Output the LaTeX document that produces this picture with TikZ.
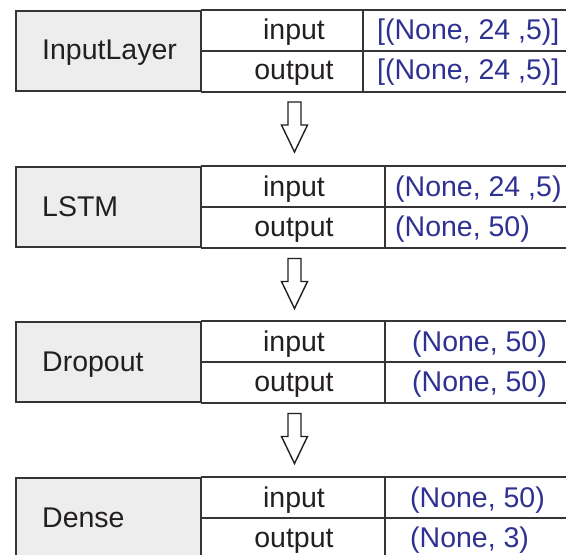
\documentclass[tikz,border=0pt]{standalone}
\usepackage{fontspec}
\setmainfont{Liberation Sans}
\usetikzlibrary{calc}
\definecolor{cellgray}{HTML}{EDEDED}
\definecolor{linegray}{HTML}{383334}
\definecolor{txtgray}{HTML}{231F20}
\definecolor{dimblue}{HTML}{2E3192}
\tikzset{
	gridline/.style={draw=linegray, line width=2pt, line cap=rect},
	namecell/.style={gridline, fill=cellgray, anchor=north west, minimum width=185pt, minimum height=80pt, inner sep=0pt},
	word/.style={text=txtgray, font=\fontsize{28.5}{30}\selectfont, inner sep=0pt},
	dimtext/.style={word, text=dimblue, anchor=base west},
	flowarrow/.pic={
		\draw[draw=txtgray, line width=1.4pt, fill=white] (-6.5,0) -- (6.5,0) -- (6.5,23) -- (13,23) -- (0,50) -- (-13,23) -- (-6.5,23) -- cycle;
	}
}
\begin{document}
\begin{tikzpicture}[x=1pt,y=-1pt]
	\useasboundingbox (0,0) rectangle (566,555);
	\clip (0,0) rectangle (566,555);
	% one table per layer
	\foreach \tab/\top/\col/\vx/\lname/\vin/\vout in {
		inputlayer/9.5/363/377/InputLayer/{[(None, 24 ,5)]}/{[(None, 24 ,5)]},
		lstm/166/385/395/LSTM/{(None, 24 ,5)}/{(None, 50)},
		dropout/321/385/412/Dropout/{(None, 50)}/{(None, 50)},
		dense/477/385/410/Dense/{(None, 50)}/{(None, 3)}}
	{
		\node[namecell] (\tab) at (15,\top) {};
		\node[word, anchor=base west] (\tab-name) at (42,{\top+50}) {\lname};
		\draw[gridline] (\tab.north east) -- ++(380,0);
		\draw[gridline] (\tab.east) -- ++(380,0);
		\draw[gridline] (\tab.south east) -- ++(380,0);
		\draw[gridline] (\col,\top) -- ++(0,80);
		\node[word, anchor=base] (\tab-in) at (294,{\top+30}) {input};
		\node[word, anchor=base] (\tab-out) at (294,{\top+70}) {output};
		\node[dimtext] (\tab-inval) at (\vx,{\top+30}) {\vin};
		\node[dimtext] (\tab-outval) at (\vx,{\top+70}) {\vout};
	}
	% arrows between the layers
	\pic at ($(inputlayer.south east)+(92.5,10.5)$) {flowarrow};
	\pic at ($(lstm.south east)+(92.5,10.5)$) {flowarrow};
	\pic at ($(dropout.south east)+(92.5,10.5)$) {flowarrow};
\end{tikzpicture}
\end{document}
